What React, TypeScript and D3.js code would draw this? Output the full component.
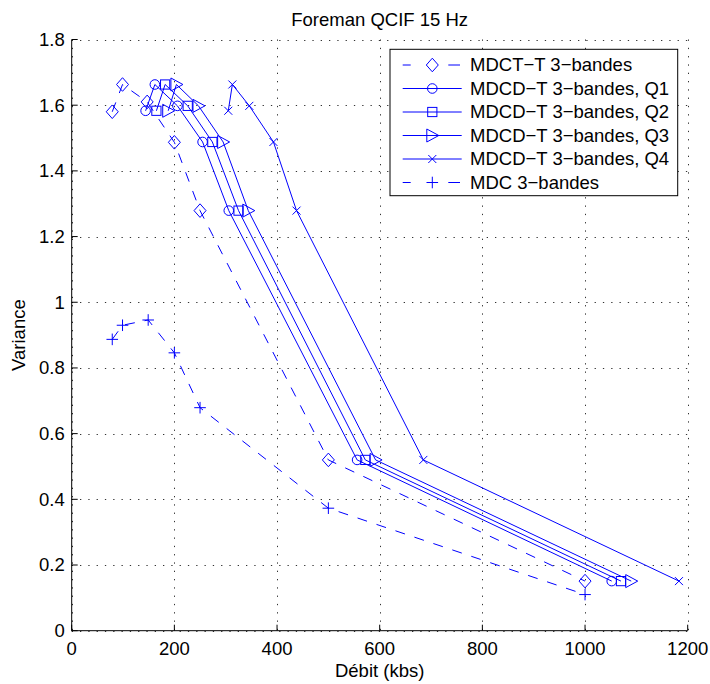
import React from "react";
import * as d3 from "d3";

// ---- data ----
const xTicks = [0, 200, 400, 600, 800, 1000, 1200];
const yTicks = [0, 0.2, 0.4, 0.6, 0.8, 1.0, 1.2, 1.4, 1.6, 1.8];
const yTickLabels = ["0", "0.2", "0.4", "0.6", "0.8", "1", "1.2", "1.4", "1.6", "1.8"];

const seriesNames = [
  "MDCT\u2212T 3\u2212bandes",
  "MDCD\u2212T 3\u2212bandes, Q1",
  "MDCD\u2212T 3\u2212bandes, Q2",
  "MDCD\u2212T 3\u2212bandes, Q3",
  "MDCD\u2212T 3\u2212bandes, Q4",
  "MDC 3\u2212bandes",
];

const mdctRate = [79, 99, 147, 200, 250, 500, 1000];
const mdctVar = [1.58, 1.663, 1.61, 1.487, 1.279, 0.52, 0.151];

const mdcdVar = [1.583, 1.663, 1.598, 1.488, 1.279, 0.52, 0.151];
const q1Rate = [144, 162, 206, 255, 306, 556, 1052];
const q2Rate = [165, 182, 226, 274, 325, 572, 1070];
const q3Rate = [188, 204, 247, 295, 344, 592, 1090];
const q4Rate = [305, 313, 346, 393, 438, 685, 1183];

const mdcRate = [79, 99, 149, 200, 250, 500, 1000];
const mdcVar = [0.887, 0.93, 0.946, 0.846, 0.679, 0.373, 0.11];

const markers = ["diamond", "circle", "square", "triangle", "x", "plus"];
const dashed = [true, false, false, false, false, true];

const BLUE = "#0000ff";
const FONT = "'Liberation Sans', Arial, Helvetica, sans-serif";
const FS = 18.5;

function Marker({ cx, cy, type }: { cx: number; cy: number; type: string }) {
  const common = { fill: "none", stroke: BLUE, strokeWidth: 1 };
  switch (type) {
    case "diamond":
      return <path d={`M${cx},${cy - 6.8}L${cx + 6},${cy}L${cx},${cy + 6.8}L${cx - 6},${cy}Z`} {...common} />;
    case "circle":
      return <circle cx={cx} cy={cy} r={4.8} {...common} />;
    case "square":
      return <rect x={cx - 4.6} y={cy - 4.6} width={9.2} height={9.2} {...common} />;
    case "triangle":
      return <path d={`M${cx - 5.5},${cy - 6.5}L${cx + 6.5},${cy}L${cx - 5.5},${cy + 6.5}Z`} {...common} />;
    case "x":
      return <path d={`M${cx - 4},${cy - 4}L${cx + 4},${cy + 4}M${cx - 4},${cy + 4}L${cx + 4},${cy - 4}`} {...common} />;
    case "plus":
      return <path d={`M${cx - 5.8},${cy}L${cx + 5.8},${cy}M${cx},${cy - 5.8}L${cx},${cy + 5.8}`} {...common} />;
  }
  return null;
}

export default function App() {
  const W = 710, H = 684;
  const left = 71.7, right = 687.7, top = 39.5, bottom = 630.7;
  const x = d3.scaleLinear().domain([0, 1200]).range([left, right]);
  const y = d3.scaleLinear().domain([0, 1.8]).range([bottom, top]);
  const line = d3.line<[number, number]>().x((d) => x(d[0])).y((d) => y(d[1]));

  const rates = [mdctRate, q1Rate, q2Rate, q3Rate, q4Rate, mdcRate];
  const vars = [mdctVar, mdcdVar, mdcdVar, mdcdVar, mdcdVar, mdcVar];
  const series = rates.map((r, i) => ({
    name: seriesNames[i],
    pts: r.map((v, j) => [v, vars[i][j]] as [number, number]),
    marker: markers[i],
    dashed: dashed[i],
  }));

  // legend layout
  const lgX0 = 390, lgY0 = 49.3, lgX1 = 677.7, lgY1 = 195.7;
  const rowY0 = 65, rowStep = 23.5;
  const sampleX0 = 402.7, sampleX1 = 461.7, markX = 432.3, textX = 470;

  return (
    <svg width={W} height={H} style={{ position: "absolute", left: 0, top: 0, background: "#fff" }} fontFamily={FONT}>
      <rect x={0} y={0} width={W} height={H} fill="#fff" />
      {/* grid */}
      <g stroke="#333" strokeWidth={1} strokeDasharray="1.3,7" fill="none">
        {xTicks.map((t) => (
          <line key={"gx" + t} x1={Math.round(x(t)) + 0.5} x2={Math.round(x(t)) + 0.5} y1={top} y2={bottom} />
        ))}
        {yTicks.map((t) => (
          <line key={"gy" + t} x1={left} x2={right} y1={Math.round(y(t)) + 0.5} y2={Math.round(y(t)) + 0.5} />
        ))}
      </g>
      {/* axes */}
      <g stroke="#000" strokeWidth={1} fill="none">
        <line x1={left} x2={left} y1={top} y2={bottom} />
        <line x1={left} x2={right} y1={bottom} y2={bottom} />
        {xTicks.map((t) => (
          <line key={"tx" + t} x1={x(t)} x2={x(t)} y1={bottom} y2={bottom - 6} />
        ))}
        {yTicks.map((t) => (
          <line key={"ty" + t} x1={left} x2={left + 6} y1={y(t)} y2={y(t)} />
        ))}
      </g>
      {/* tick labels */}
      <g fontSize={FS} fill="#000">
        {xTicks.map((t) => (
          <text key={"lx" + t} x={x(t)} y={bottom + 24} textAnchor="middle">{String(t)}</text>
        ))}
        {yTicks.map((t, i) => (
          <text key={"ly" + t} x={left - 7} y={y(t)} dy="0.35em" textAnchor="end">{yTickLabels[i]}</text>
        ))}
      </g>
      {/* titles */}
      <text x={(left + right) / 2} y={26} textAnchor="middle" fontSize={FS}>Foreman QCIF 15 Hz</text>
      <text x={(left + right) / 2} y={677} textAnchor="middle" fontSize={FS}>Débit (kbs)</text>
      <text transform={`translate(25,${(top + bottom) / 2}) rotate(-90)`} textAnchor="middle" fontSize={FS}>Variance</text>
      {/* series */}
      {series.map((s, i) => (
        <g key={"s" + i}>
          <path d={line(s.pts) || ""} fill="none" stroke={BLUE} strokeWidth={1} strokeDasharray={s.dashed ? "10,10" : undefined} />
          {s.pts.map((p, j) => (
            <Marker key={j} cx={x(p[0])} cy={y(p[1])} type={s.marker} />
          ))}
        </g>
      ))}
      {/* legend */}
      <rect x={lgX0} y={lgY0} width={lgX1 - lgX0} height={lgY1 - lgY0} fill="#fff" stroke="#000" strokeWidth={1} />
      {series.map((s, i) => {
        const ry = rowY0 + i * rowStep;
        return (
          <g key={"lg" + i}>
            {s.dashed ? (
              <g stroke={BLUE} strokeWidth={1}>
                <line x1={sampleX0} x2={sampleX0 + 8} y1={ry} y2={ry} />
                <line x1={448.3} x2={sampleX1 - 1.7} y1={ry} y2={ry} />
              </g>
            ) : (
              <line x1={sampleX0} x2={sampleX1} y1={ry} y2={ry} stroke={BLUE} strokeWidth={1} />
            )}
            <Marker cx={markX} cy={ry} type={s.marker} />
            <text x={textX} y={ry} dy="0.35em" fontSize={FS}>{s.name}</text>
          </g>
        );
      })}
    </svg>
  );
}
